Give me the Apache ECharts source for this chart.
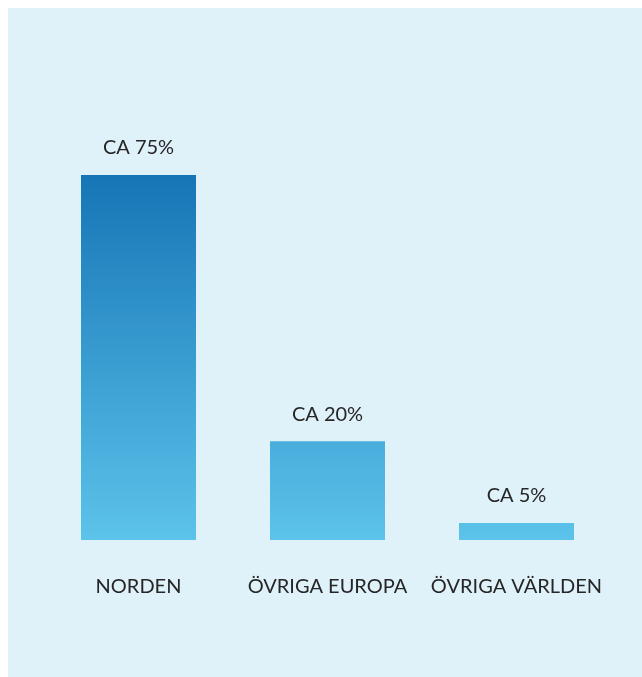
<!DOCTYPE html>
<html>
<head>
<meta charset="utf-8">
<script src="https://cdn.jsdelivr.net/npm/echarts@6/dist/echarts.min.js"></script>
<style>
  html, body { margin: 0; padding: 0; background: #ffffff; }
  .bg { position: absolute; left: 8px; top: 8px; width: 634px; height: 669px; background: #dff1f9; }
  #chart { position: absolute; left: 0; top: 0; width: 642px; height: 677px; }
</style>
</head>
<body>
<div class="bg"></div>
<div id="chart"></div>
<script>
const categories = ['NORDEN', 'ÖVRIGA EUROPA', 'ÖVRIGA VÄRLDEN'];
const shares = [75, 20.3, 3.5];
const shareLabels = ['CA 75%', 'CA 20%', 'CA 5%'];

var myChart = echarts.init(document.getElementById('chart'));

let option = {
  animation: false,
  grid: {
    left: 44,
    right: 31,
    top: 175,
    bottom: 137
  },
  xAxis: {
    type: 'category',
    data: categories,
    axisLine: { show: false },
    axisTick: { show: false },
    axisLabel: {
      interval: 0,
      hideOverlap: false,
      margin: 37,
      color: '#262626',
      fontFamily: 'Lato',
      fontSize: 20
    }
  },
  yAxis: {
    type: 'value',
    min: 0,
    max: 75,
    show: false,
    splitLine: { show: false }
  },
  series: [
    {
      type: 'bar',
      barWidth: 115,
      data: shares,
      itemStyle: {
        // one gradient for all bars, top of the tall bar to the baseline
        color: new echarts.graphic.LinearGradient(0, 175, 0, 540, [
          { offset: 0, color: '#1675b6' },
          { offset: 1, color: '#5cc3ea' }
        ], true)
      },
      label: {
        show: true,
        position: 'top',
        distance: 17,
        color: '#262626',
        fontFamily: 'Lato',
        fontSize: 20,
        formatter: function (p) {
          return shareLabels[p.dataIndex];
        }
      }
    }
  ]
};
myChart.setOption(option);
</script>
</body>
</html>
